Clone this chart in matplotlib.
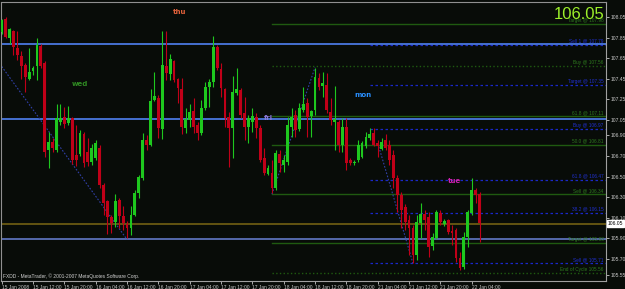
import matplotlib
matplotlib.use("Agg")
import matplotlib.pyplot as plt
from matplotlib.patches import Rectangle

# ---------------- data (H1 bars, 15 Jan 2008 04:00 -> 22 Jan 2008 06:00) -------------
opens = [107.90, 108.03, 107.85, 107.91, 107.75, 107.67, 107.58, 107.45, 107.53, 107.57,
         107.77, 107.60, 106.76, 106.84, 106.76, 107.03, 107.08, 107.02, 107.07, 106.71,
         106.72, 106.91, 106.74, 106.64, 106.68, 106.78, 106.42, 106.26, 106.11, 106.06,
         106.27, 106.12, 106.04, 106.00, 106.13, 106.34, 106.49, 106.86, 106.81, 107.24,
         107.26, 106.96, 107.57, 107.50, 107.62, 107.45, 107.35, 106.97, 107.05, 107.14,
         107.00, 106.92, 107.17, 107.37, 107.42, 107.76, 107.55, 107.35, 107.08, 106.97,
         107.31, 107.34, 107.12, 106.98, 107.03, 107.08, 106.97, 106.68, 106.53, 106.54,
         106.39, 106.72, 106.61, 106.64, 106.98, 107.10, 106.96, 107.15, 107.22, 107.09,
         107.15, 107.46, 107.38, 107.39, 107.13, 107.03, 107.03, 106.81, 106.98, 106.66,
         106.63, 106.66, 106.69, 106.80, 106.88, 106.92, 106.83, 106.77, 106.86, 106.81,
         106.71, 106.49, 106.32, 106.21, 106.08, 106.00, 105.74, 106.05, 106.14, 106.11,
         105.83, 105.90, 106.15, 106.04, 106.08, 105.97, 105.98, 105.71, 105.62, 105.91,
         106.15, 106.37, 106.33]
highs = [108.03, 108.05, 107.94, 107.92, 107.91, 107.72, 107.60, 107.75, 107.57, 107.85,
         107.79, 107.62, 106.93, 106.88, 107.21, 107.21, 107.18, 107.19, 107.08, 107.00,
         106.95, 106.93, 106.88, 106.82, 106.86, 106.81, 106.44, 106.27, 106.13, 106.33,
         106.29, 106.22, 106.07, 106.22, 106.37, 106.52, 106.92, 106.90, 107.35, 107.52,
         107.29, 107.91, 107.91, 107.69, 107.63, 107.46, 107.46, 107.17, 107.21, 107.26,
         107.03, 107.24, 107.42, 107.45, 107.87, 107.78, 107.60, 107.36, 107.13, 107.48,
         107.56, 107.36, 107.27, 107.10, 107.17, 107.12, 107.00, 106.78, 106.61, 106.66,
         106.76, 106.76, 106.71, 107.08, 107.17, 107.15, 107.22, 107.37, 107.26, 107.15,
         107.56, 107.51, 107.52, 107.51, 107.26, 107.38, 107.05, 107.07, 107.07, 106.68,
         106.66, 106.86, 106.85, 106.93, 106.97, 106.97, 106.86, 106.88, 106.91, 106.86,
         106.76, 106.52, 106.35, 106.23, 106.13, 106.03, 106.13, 106.24, 106.18, 106.16,
         105.95, 106.18, 106.18, 106.09, 106.09, 106.03, 106.00, 105.77, 105.96, 106.18,
         106.49, 106.39, 106.35]
lows = [107.89, 107.85, 107.79, 107.68, 107.63, 107.45, 107.32, 107.44, 107.49, 107.44,
        107.56, 106.69, 106.58, 106.74, 106.74, 107.00, 106.97, 107.00, 106.62, 106.60,
        106.70, 106.59, 106.60, 106.61, 106.66, 106.39, 106.13, 105.94, 105.95, 106.01,
        106.00, 105.98, 105.90, 105.93, 106.12, 106.29, 106.47, 106.76, 106.80, 107.23,
        106.88, 106.87, 107.44, 107.44, 107.42, 107.22, 106.91, 106.92, 106.98, 106.92,
        106.86, 106.90, 107.15, 107.18, 107.37, 107.54, 107.27, 106.98, 106.59, 106.68,
        107.29, 107.07, 106.86, 106.83, 106.93, 106.88, 106.64, 106.52, 106.52, 106.34,
        106.37, 106.55, 106.55, 106.61, 106.89, 106.89, 106.94, 107.13, 106.89, 106.89,
        107.10, 107.34, 107.27, 107.12, 107.00, 106.76, 106.74, 106.74, 106.56, 106.61,
        106.61, 106.64, 106.68, 106.78, 106.86, 106.80, 106.69, 106.76, 106.76, 106.61,
        106.39, 106.16, 106.00, 105.98, 105.74, 105.66, 105.69, 105.90, 105.98, 105.72,
        105.79, 105.89, 106.03, 106.02, 105.94, 105.84, 105.67, 105.59, 105.60, 105.82,
        106.13, 106.24, 105.87]
closes = [108.02, 107.86, 107.93, 107.76, 107.68, 107.57, 107.47, 107.52, 107.56, 107.78,
          107.57, 106.74, 106.84, 106.78, 107.07, 107.07, 107.01, 107.07, 106.66, 106.66,
          106.92, 106.63, 106.64, 106.78, 106.83, 106.42, 106.24, 106.11, 106.05, 106.26,
          106.12, 106.05, 106.00, 106.13, 106.34, 106.50, 106.86, 106.81, 107.23, 107.28,
          106.97, 107.58, 107.51, 107.64, 107.44, 107.36, 106.98, 107.06, 107.13, 106.98,
          106.92, 107.17, 107.37, 107.42, 107.76, 107.56, 107.36, 107.07, 106.97, 107.32,
          107.35, 107.10, 106.98, 107.07, 107.09, 106.97, 106.66, 106.54, 106.58, 106.39,
          106.73, 106.63, 106.66, 107.00, 107.08, 106.95, 107.17, 107.21, 107.08, 107.14,
          107.47, 107.37, 107.41, 107.15, 107.05, 107.06, 106.81, 106.98, 106.63, 106.63,
          106.64, 106.81, 106.83, 106.89, 106.91, 106.81, 106.80, 106.84, 106.78, 106.66,
          106.49, 106.32, 106.18, 106.06, 106.00, 105.74, 106.06, 106.14, 106.08, 105.82,
          105.91, 106.16, 106.06, 106.07, 105.96, 105.95, 105.71, 105.61, 105.91, 106.16,
          106.37, 106.32, 106.05]

time_labels = ["15 Jan 2008", "15 Jan 12:00", "15 Jan 20:00", "16 Jan 04:00", "16 Jan 12:00",
               "16 Jan 20:00", "17 Jan 04:00", "17 Jan 12:00", "17 Jan 20:00", "18 Jan 04:00",
               "18 Jan 12:00", "18 Jan 20:00", "21 Jan 04:00", "21 Jan 12:00", "21 Jan 20:00",
               "22 Jan 04:00"]
price_ticks = [108.05, 107.85, 107.65, 107.45, 107.25, 107.05, 106.90, 106.70,
               106.50, 106.30, 106.10, 105.90, 105.70, 105.55]

# full-width horizontal levels
full_levels = [107.79, 107.06, 106.04, 105.89]
full_colors = ["#4a78e0", "#4a78e0", "#6a5a12", "#5a70b8"]

# green levels starting at bar 69
green_levels = [107.98, 107.57, 107.09, 106.81, 106.33, 105.86, 105.56]
green_styles = ["-", ":", "-", "-", "-", "-", ":"]
green_texts = ["Target @ 107.98", "Buy @ 107.56", "61.8 @ 107.11", "50.0 @ 106.81",
               "Sell @ 106.34", "Target @ 105.88", "End of Cycle 105.56"]
# blue dashed levels starting at bar 94
blue_levels = [107.78, 107.39, 106.96, 106.47, 106.15, 105.66]
blue_texts = ["Sell 1 @ 107.79", "Target @ 107.35", "Buy @ 106.97", "61.8 @ 106.47",
              "38.2 @ 106.15", "Sell @ 105.71"]

# trend lines (bar, price) pairs
trend_lines = [((0, 107.57), (32, 105.89)),
               ((69, 106.33), (80, 107.56)),
               ((96.3, 106.79), (105, 105.66))]

day_names = ["wed", "thu", "fri", "mon", "tue"]
day_pos = [(20, 107.40), (45.5, 108.10), (68, 107.07), (92.3, 107.29), (115.7, 106.46)]
day_colors = ["#2f8a22", "#e0603a", "#8a7ad8", "#2a90ff", "#d020b0"]

current_price = 106.05

# ---------------- drawing ----------------
BG = "#080c08"
W, H = 625, 289
FONT = "Liberation Sans"
fig = plt.figure(figsize=(W / 100, H / 100), dpi=100, facecolor=BG)
ax = fig.add_axes([1 / W, 1 - 281 / H, 605 / W, 279 / H], facecolor=BG)

n = len(opens)
bw = 0.72
for i in range(n):
    o, h, l, c = opens[i], highs[i], lows[i], closes[i]
    col = "#1ec81e" if c >= o else "#c00018"
    ax.plot([i, i], [l, h], color=col, lw=0.8, solid_capstyle="butt", zorder=3)
    ax.add_patch(Rectangle((i - bw / 2, min(o, c)), bw, max(abs(c - o), 0.006),
                           facecolor=col, edgecolor="none", zorder=4))

xmin, xmax = -0.18, 154.3
for lv, colr in zip(full_levels, full_colors):
    ax.axhline(lv, color=colr, lw=1.3, zorder=2)

for lv, ls, txt in zip(green_levels, green_styles, green_texts):
    ax.plot([69, xmax], [lv, lv], color="#1f5a10", lw=1.0, ls=ls, zorder=1)
    ax.text(xmax - 0.6, lv + 0.01, txt, color="#2e7a1e", fontsize=3.4, ha="right",
            va="bottom", zorder=5, family=FONT)

for lv, txt in zip(blue_levels, blue_texts):
    ax.plot([94, xmax], [lv, lv], color="#1a28c8", lw=0.9, ls=(0, (2, 2)), zorder=1)
    ax.text(xmax - 0.6, lv + 0.01, txt, color="#2030d0", fontsize=3.4, ha="right",
            va="bottom", zorder=5, family=FONT)

for (x0, y0), (x1, y1) in trend_lines:
    ax.plot([x0, x1], [y0, y1], color="#3040a8", lw=0.8, ls=(0, (1.5, 1.5)), zorder=2)

for name, (x, y), colr in zip(day_names, day_pos, day_colors):
    ax.text(x, y, name, color=colr, fontsize=5, fontweight="bold", ha="center",
            va="center", zorder=6)

ax.set_xlim(xmin, xmax)
ax.set_ylim(105.487, 108.196)

# axes styling
ax.yaxis.tick_right()
ax.set_yticks(price_ticks)
ax.set_yticklabels([f"{p:.2f}" for p in price_ticks], family=FONT)
ax.tick_params(axis="y", colors="#c8c8c8", labelsize=3.6, length=2, width=0.6, pad=1.2)
ax.set_xticks([8 * k for k in range(len(time_labels))])
ax.set_xticklabels(time_labels, ha="left", family=FONT)
ax.tick_params(axis="x", colors="#c8c8c8", labelsize=3.5, length=2, width=0.6, pad=0.8)

for side in ["right", "bottom"]:
    ax.spines[side].set_color("#a0a0a0")
    ax.spines[side].set_linewidth(0.8)
for side in ["top", "left"]:
    ax.spines[side].set_color("#909090")
    ax.spines[side].set_linewidth(0.8)
    ax.spines[side].set_linestyle((0, (1, 1)))

# current price box on the axis
ax.annotate(f"{current_price:.2f}", xy=(1.0, current_price), xycoords=("axes fraction", "data"),
            xytext=(1.2, 0), textcoords="offset points", fontsize=3.6, color="black",
            va="center", ha="left", family=FONT,
            bbox=dict(boxstyle="square,pad=0.2", fc="white", ec="white"))

# big price text
ax.text(0.998, 0.955, f"{current_price:.2f}", transform=ax.transAxes, color="#9cf02a",
        fontsize=12, ha="right", va="center", family=FONT, zorder=7)

ax.text(0.004, 0.008, "FXDD - MetaTrader, \u00a9 2001-2007 MetaQuotes Software Corp.",
        transform=ax.transAxes, color="#d0d0d0", fontsize=3.5, ha="left", va="bottom",
        family=FONT)

fig.savefig("out.png", dpi=100, facecolor=BG)
